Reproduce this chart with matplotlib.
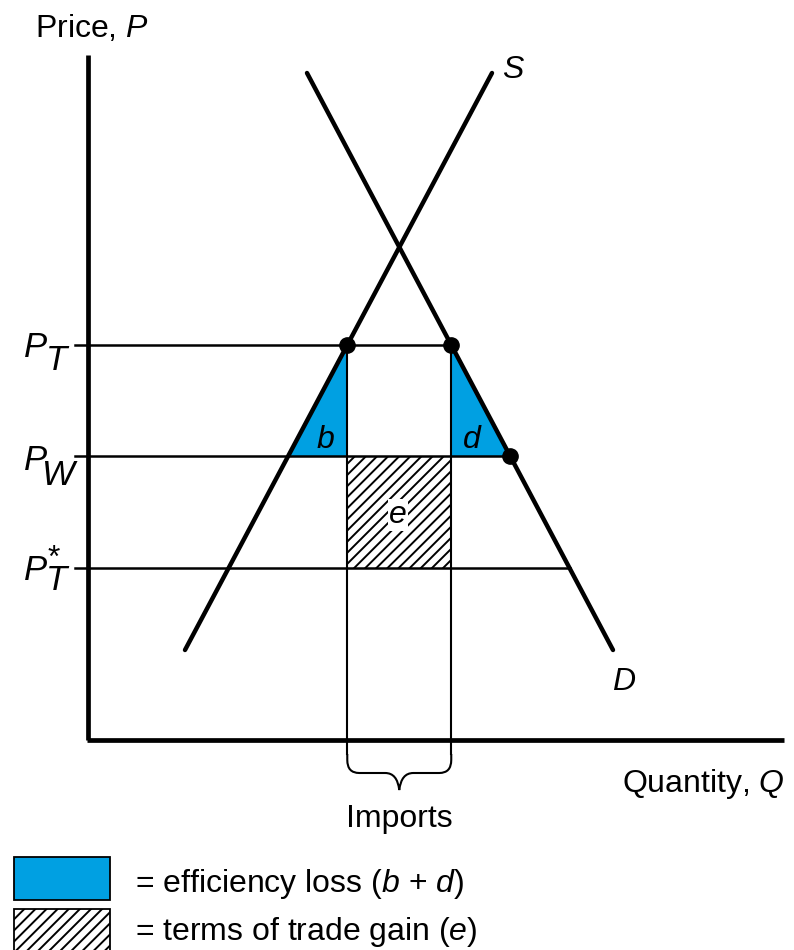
import numpy as np
import matplotlib.pyplot as plt
from matplotlib.path import Path
from matplotlib.patches import PathPatch, Polygon, Rectangle

plt.rcParams['font.family'] = ['Liberation Sans', 'DejaVu Sans']
plt.rcParams['mathtext.fontset'] = 'custom'
plt.rcParams['mathtext.rm'] = 'Liberation Sans'
plt.rcParams['mathtext.it'] = 'Liberation Sans:italic'
plt.rcParams['hatch.linewidth'] = 1.4

# --- datos (unidades del diagrama: Q horizontal, P vertical) ---
supply_q = [97, 404]
supply_p = [90, 667]
demand_q = [219, 525]
demand_p = [667, 90]
p_t = 395        # precio con arancel
p_w = 284        # precio mundial
p_t_star = 172   # precio exterior con arancel
blue = '#00A0E2'
FS = 23
FP = 25  # etiquetas de precio


def q_supply(p):
    return np.interp(p, supply_p, supply_q)


def q_demand(p):
    return np.interp(p, demand_p[::-1], demand_q[::-1])


qs_t, qd_t = q_supply(p_t), q_demand(p_t)
qs_w, qd_w = q_supply(p_w), q_demand(p_w)
qd_star = q_demand(p_t_star)

fig = plt.figure(figsize=(7.94, 9.5), dpi=100)
ax = fig.add_axes([0, 0, 1, 1])
ax.set_xlim(-88, 706)
ax.set_ylim(-210, 740)
ax.axis('off')

# ejes
ax.plot([0, 0], [0, 685], color='black', lw=3.4, solid_capstyle='butt')
ax.plot([-1.2, 696], [0, 0], color='black', lw=3.4, solid_capstyle='butt')

# areas
ax.add_patch(Polygon([[qs_t, p_t], [qs_w, p_w], [qs_t, p_w]], closed=True,
                     facecolor=blue, edgecolor='none', zorder=1))
ax.add_patch(Polygon([[qd_t, p_t], [qd_t, p_w], [qd_w, p_w]], closed=True,
                     facecolor=blue, edgecolor='none', zorder=1))
ax.add_patch(Rectangle((qs_t, p_t_star), qd_t - qs_t, p_w - p_t_star,
                       facecolor='white', edgecolor='black', hatch='///',
                       lw=0, zorder=1))

# lineas de precio
ax.plot([-13, qd_t], [p_t, p_t], color='black', lw=1.8, zorder=2)
ax.plot([-13, qd_w], [p_w, p_w], color='black', lw=1.8, zorder=2)
ax.plot([-13, qd_star], [p_t_star, p_t_star], color='black', lw=1.8, zorder=2)

# importaciones
ax.plot([qs_t, qs_t], [p_t, -14], color='black', lw=1.5, zorder=2)
ax.plot([qd_t, qd_t], [p_t, -14], color='black', lw=1.5, zorder=2)

# oferta y demanda
ax.plot(supply_q, supply_p, color='black', lw=3.2, solid_capstyle='round', zorder=3)
ax.plot(demand_q, demand_p, color='black', lw=3.2, solid_capstyle='round', zorder=3)
ax.plot([qs_t, qd_t, qd_w], [p_t, p_t, p_w], 'o', color='black', ms=11, zorder=4)

# llave
qm = (qs_t + qd_t) / 2
verts = [(qs_t, -14), (qs_t, -20), (qs_t, -33), (qs_t + 12, -33),
         (qm - 14, -33), (qm - 2, -33), (qm, -50),
         (qm + 2, -33), (qm + 14, -33),
         (qd_t - 12, -33), (qd_t, -33), (qd_t, -20), (qd_t, -14)]
codes = [Path.MOVETO, Path.LINETO, Path.CURVE3, Path.CURVE3,
         Path.LINETO, Path.CURVE3, Path.CURVE3,
         Path.CURVE3, Path.CURVE3,
         Path.LINETO, Path.CURVE3, Path.CURVE3, Path.LINETO]
ax.add_patch(PathPatch(Path(verts, codes), facecolor='none', edgecolor='black', lw=1.5))

# textos
ax.text(-53, 703, 'Price, $P$', fontsize=FS, ha='left', va='baseline')
ax.text(697, -52, 'Quantity, $Q$', fontsize=FS, ha='right', va='baseline')
ax.text(qm, -87, 'Imports', fontsize=FS, ha='center', va='baseline')
ax.text(425, 662, 'S', fontsize=FS, style='italic', ha='center', va='baseline')
ax.text(536, 50, 'D', fontsize=FS, style='italic', ha='center', va='baseline')
ax.text(237, 292, 'b', fontsize=FS, style='italic', ha='center', va='baseline')
ax.text(384, 292, 'd', fontsize=FS, style='italic', ha='center', va='baseline', zorder=5)
ax.text(310, 217, 'e', fontsize=FS, style='italic', ha='center', va='baseline',
        bbox=dict(facecolor='white', edgecolor='none', pad=0.5), zorder=5)

ax.text(-64, p_t - 12, 'P', fontsize=FP, style='italic', ha='left', va='baseline')
ax.text(-42, p_t - 25, 'T', fontsize=FP, style='italic', ha='left', va='baseline')
ax.text(-64, p_w - 14, 'P', fontsize=FP, style='italic', ha='left', va='baseline')
ax.text(-46, p_w - 29, 'W', fontsize=FP, style='italic', ha='left', va='baseline')
ax.text(-64, p_t_star - 12, 'P', fontsize=FP, style='italic', ha='left', va='baseline')
ax.text(-34, p_t_star + 1, '*', fontsize=FS, ha='center', va='baseline')
ax.text(-42, p_t_star - 22, 'T', fontsize=FP, style='italic', ha='left', va='baseline')

# leyenda
ax.add_patch(Rectangle((-74, -160), 96, 43, facecolor=blue, edgecolor='black', lw=1.3))
ax.add_patch(Rectangle((-74, -215), 96, 46, facecolor='white', edgecolor='black',
                       hatch='///', lw=1.3))
ax.text(47, -152, '= efficiency loss ($b$ + $d$)', fontsize=FS, ha='left', va='baseline')
ax.text(47, -200, '= terms of trade gain ($e$)', fontsize=FS, ha='left', va='baseline')

fig.savefig('out.png', dpi=100)
